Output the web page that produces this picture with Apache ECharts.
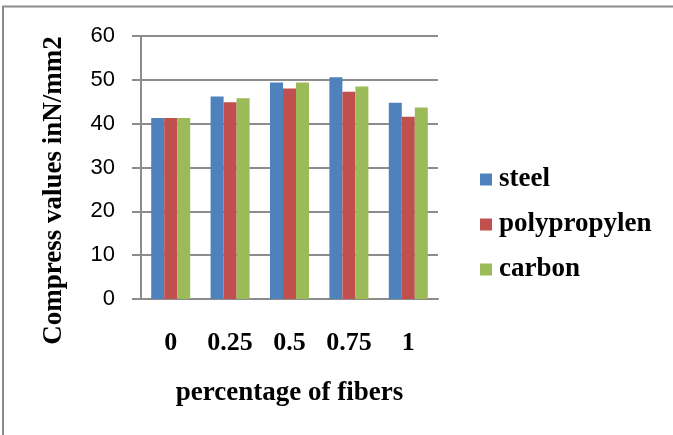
<!DOCTYPE html>
<html>
<head>
<meta charset="utf-8">
<script src="https://cdn.jsdelivr.net/npm/echarts@6/dist/echarts.min.js"></script>
<style>
html,body{margin:0;padding:0;background:#fff;}
#chart{width:673px;height:435px;}
</style>
</head>
<body>
<div id="chart"></div>
<script>
const categories = ['0', '0.25', '0.5', '0.75', '1'];
const steel = [41.3, 46.2, 49.4, 50.6, 44.8];
const polypropylen = [41.3, 44.9, 48.0, 47.3, 41.6];
const carbon = [41.3, 45.8, 49.4, 48.5, 43.7];
const yTicks = { min: 0, max: 60, interval: 10 };

const serif = '"Liberation Serif", "Times New Roman", serif';
const sans = '"Liberation Sans", Arial, sans-serif';

const chart = echarts.init(document.getElementById('chart'), null, { renderer: 'canvas' });

function barSeries(name, data, color) {
  return {
    name: name,
    type: 'bar',
    data: data,
    barWidth: 13,
    barGap: '0%',
    itemStyle: { color: color },
    animation: false
  };
}

chart.setOption({
  animation: false,
  backgroundColor: '#ffffff',
  graphic: [{
    type: 'rect',
    shape: { x: 3, y: 6.5, width: 720, height: 520 },
    style: { fill: 'none', stroke: '#8c8c8c', lineWidth: 2 },
    silent: true,
    z: -1
  }],
  grid: { left: 141, right: 235, top: 36, bottom: 136, containLabel: false },
  legend: {
    orient: 'vertical',
    left: 480,
    top: 166,
    padding: 0,
    itemWidth: 12,
    itemHeight: 12,
    itemGap: 18,
    icon: 'rect',
    textStyle: { fontFamily: serif, fontWeight: 'bold', fontSize: 27, color: '#000', padding: [0, 0, 0, 2] },
    data: ['steel', 'polypropylen', 'carbon']
  },
  xAxis: {
    type: 'category',
    data: categories,
    name: 'percentage of fibers',
    nameLocation: 'middle',
    nameGap: 81,
    nameTextStyle: { fontFamily: serif, fontWeight: 'bold', fontSize: 27, color: '#000' },
    axisLine: { lineStyle: { color: '#8c8c8c', width: 2 } },
    axisTick: { show: false },
    axisLabel: { fontFamily: serif, fontWeight: 'bold', fontSize: 26, color: '#000', margin: 31 }
  },
  yAxis: {
    type: 'value',
    min: yTicks.min,
    max: yTicks.max,
    interval: yTicks.interval,
    name: 'Compress values inN/mm2',
    nameLocation: 'middle',
    nameGap: 73,
    nameRotate: 90,
    nameTextStyle: { fontFamily: serif, fontWeight: 'bold', fontSize: 27, color: '#000', padding: [0, 46, 0, 0] },
    axisLine: { show: true, lineStyle: { color: '#8c8c8c', width: 2 } },
    axisTick: { show: true, inside: false, length: 9, lineStyle: { color: '#8c8c8c', width: 2 } },
    axisLabel: { fontFamily: sans, fontSize: 22, color: '#000', margin: 26 },
    splitLine: { show: true, lineStyle: { color: '#8c8c8c', width: 2 } }
  },
  series: [
    barSeries('steel', steel, '#4F81BD'),
    barSeries('polypropylen', polypropylen, '#C0504D'),
    barSeries('carbon', carbon, '#9BBB59')
  ]
});
</script>
</body>
</html>
